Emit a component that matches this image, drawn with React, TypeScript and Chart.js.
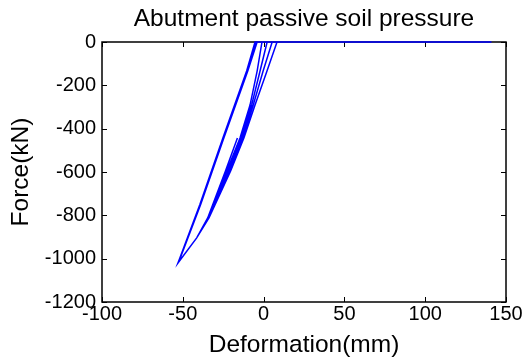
import React, { useEffect, useRef } from "react";
import { Chart, registerables } from "chart.js";

Chart.register(...registerables);

// Hysteresis path of the abutment passive soil spring (deformation in mm, force in kN)
const deformation = [
  0, -1.0, -4.0, -8.4, -14.6, -22.8, -34.4, -41.4, -53.0,
  -39.5, -25.2, -10.5, -5.3,
  141.0,
  8.3, 2.1, -5.3, -12.2, -20.4, -33.8, -41.4, -52.5,
  -39.0, -24.6, -9.8, -4.0,
  5.3, -0.3, -6.4, -13.0, -21.2, -34.0, -41.4, -53.0,
  -39.2, -24.9, -10.1, -4.6,
  2.2, -2.2, -7.4, -13.8, -22.0, -34.2, -41.4, -53.0,
  -41.4, -34.6, -23.6, -16.2,
];
const force = [
  0, 0, -134, -291, -443, -595, -812, -904, -1020,
  -751, -443, -134, 0,
  0,
  0, -134, -291, -443, -595, -812, -904, -1015,
  -751, -443, -134, 0,
  0, -134, -291, -443, -595, -812, -904, -1020,
  -751, -443, -134, 0,
  0, -134, -291, -443, -595, -812, -904, -1020,
  -904, -812, -595, -443,
];

const xTickValues = [-100, -50, 0, 50, 100, 150];
const yTickValues = [0, -200, -400, -600, -800, -1000, -1200];
const titleText = "Abutment passive soil pressure";
const xLabel = "Deformation(mm)";
const yLabel = "Force(kN)";

const FONT = '"Liberation Sans", Arial, Helvetica, sans-serif';

const boxPlugin = {
  id: "matlabBox",
  beforeDatasetsDraw(chart: any) {
    const { ctx, chartArea: a, scales } = chart;
    ctx.save();
    ctx.strokeStyle = "#000";
    ctx.lineWidth = 1.5;
    ctx.strokeRect(a.left, a.top, a.right - a.left, a.bottom - a.top);
    const tl = 5;
    ctx.lineWidth = 1;
    ctx.beginPath();
    for (const v of xTickValues) {
      const px = Math.round(scales.x.getPixelForValue(v)) + 0.5;
      ctx.moveTo(px, a.bottom);
      ctx.lineTo(px, a.bottom - tl);
      ctx.moveTo(px, a.top);
      ctx.lineTo(px, a.top + tl);
    }
    for (const v of yTickValues) {
      const py = Math.round(scales.y.getPixelForValue(v)) + 0.5;
      ctx.moveTo(a.left, py);
      ctx.lineTo(a.left + tl, py);
      ctx.moveTo(a.right, py);
      ctx.lineTo(a.right - tl, py);
    }
    ctx.stroke();
    ctx.restore();
  },
};

export default function App() {
  const canvasRef = useRef<HTMLCanvasElement | null>(null);

  useEffect(() => {
    document.body.style.margin = "0";
    document.body.style.background = "#fff";
    const canvas = canvasRef.current;
    if (!canvas) return;
    const points = deformation.map((x, i) => ({ x, y: force[i] }));
    const chart = new Chart(canvas, {
      type: "scatter",
      data: {
        datasets: [
          {
            data: points,
            showLine: true,
            borderColor: "#0000ff",
            backgroundColor: "#0000ff",
            borderWidth: 1.5,
            pointRadius: 0,
            tension: 0,
            clip: false as any,
          },
        ],
      },
      options: {
        responsive: false,
        animation: false,
        devicePixelRatio: 1,
        layout: { padding: { left: 0, right: 17, top: 0, bottom: 0 } },
        plugins: {
          legend: { display: false },
          tooltip: { enabled: false },
          title: {
            display: true,
            text: titleText,
            color: "#000",
            fullSize: false,
            font: { family: FONT, size: 24.5, weight: "normal", lineHeight: 1.2 },
            padding: { top: 4.6, bottom: 8 },
          },
        },
        scales: {
          x: {
            type: "linear",
            min: -100,
            max: 150,
            grid: { display: false, drawTicks: false },
            border: { display: false },
            ticks: {
              color: "#000",
              font: { family: FONT, size: 20 },
              padding: 0,
              maxRotation: 0,
              autoSkip: false,
              callback: (v: any) => String(v),
            },
            afterBuildTicks: (s: any) => {
              s.ticks = xTickValues.map((v) => ({ value: v }));
            },
            afterFit: (s: any) => {
              s.height = 58;
            },
            title: {
              display: true,
              text: xLabel,
              color: "#000",
              font: { family: FONT, size: 24.5, lineHeight: 1.2 },
              padding: { top: 0, bottom: 0 },
            },
          },
          y: {
            type: "linear",
            min: -1200,
            max: 0,
            grid: { display: false, drawTicks: false },
            border: { display: false },
            ticks: {
              color: "#000",
              font: { family: FONT, size: 20 },
              padding: 6,
              autoSkip: false,
              callback: (v: any) => String(v),
            },
            afterBuildTicks: (s: any) => {
              s.ticks = yTickValues.map((v) => ({ value: v }));
            },
            afterFit: (s: any) => {
              s.width = 102;
            },
            title: {
              display: true,
              text: yLabel,
              color: "#000",
              font: { family: FONT, size: 24.5, lineHeight: 1.2 },
              padding: { top: 6.3, bottom: 0 },
            },
          },
        },
      },
      plugins: [boxPlugin],
    });
    return () => chart.destroy();
  }, []);

  return (
    <div style={{ width: 523, height: 360, background: "#fff" }}>
      <canvas ref={canvasRef} width={523} height={360} style={{ display: "block" }} />
    </div>
  );
}
